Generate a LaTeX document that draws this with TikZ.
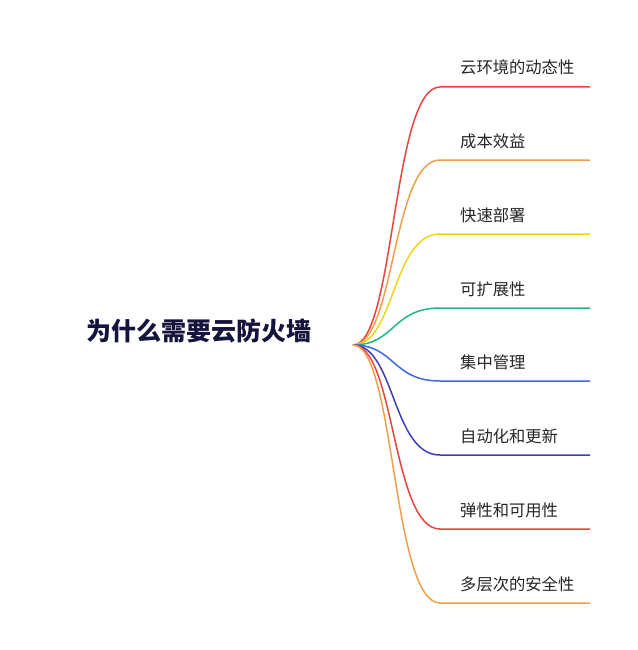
\documentclass[tikz,border=0pt]{standalone}
\usepackage{fontspec}
\newfontfamily\cjk{Noto Sans CJK SC}
\definecolor{cred}{HTML}{E8453C}
\definecolor{corange}{HTML}{F0A04B}
\definecolor{cyellow}{HTML}{F2D21B}
\definecolor{cgreen}{HTML}{1DB984}
\definecolor{cblue}{HTML}{4169E1}
\definecolor{cindigo}{HTML}{3F3FB5}
\definecolor{croot}{HTML}{14143C}
\begin{document}
\begin{tikzpicture}[x=1pt,y=-1pt,
  br/.style={line width=1.5pt},
  lab/.style={font=\cjk\fontsize{16.3}{19}\selectfont,anchor=base west,text=black!85,inner xsep=0pt},
]
\useasboundingbox[fill=white] (0,0) rectangle (637,650);
\node[font=\cjk\bfseries\fontsize{25}{28}\selectfont,text=croot] (root) at (199,331) {为什么需要云防火墙};
\coordinate (o) at (353,345);
\foreach \y/\c/\t [count=\i] in {87/cred/云环境的动态性,160/corange/成本效益,234/cyellow/快速部署,308/cgreen/可扩展性,381/cblue/集中管理,455/cindigo/自动化和更新,529/cred/弹性和可用性,603/corange/多层次的安全性}{
  \coordinate (s\i) at (440,\y);
  \coordinate (e\i) at (590,\y);
  \draw[br,\c] (o) .. controls (395,345) and (392,\y) .. (s\i) -- (e\i);
  \node[lab] (l\i) at (460,\y-13) {\t};
}
\end{tikzpicture}
\end{document}
